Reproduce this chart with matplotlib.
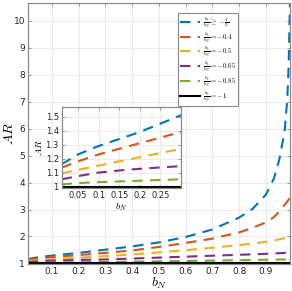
import matplotlib.pyplot as plt

plt.rcParams['mathtext.fontset'] = 'cm'

# b_N sample positions
bN = [0.01, 0.05, 0.1, 0.15, 0.2, 0.25, 0.3, 0.4, 0.5, 0.6,
      0.7, 0.8, 0.85, 0.9, 0.93, 0.95, 0.97, 0.98, 0.985, 0.99]

# AR for each ratio b1/bN
ar_third = [1.16, 1.23, 1.29, 1.34, 1.39, 1.45, 1.51, 1.63, 1.78, 1.98,
            2.26, 2.70, 3.02, 3.55, 4.15, 4.85, 5.90, 7.10, 8.30, 10.67]
ar_04 = [1.135, 1.18, 1.23, 1.27, 1.31, 1.35, 1.39, 1.48, 1.61, 1.76,
         1.92, 2.15, 2.32, 2.52, 2.72, 2.92, 3.17, 3.30, 3.37, 3.45]
ar_05 = [1.094, 1.12, 1.15, 1.18, 1.21, 1.24, 1.27, 1.33, 1.41, 1.49,
         1.58, 1.68, 1.74, 1.80, 1.85, 1.89, 1.94, 1.97, 1.98, 2.00]
ar_065 = [1.052, 1.075, 1.10, 1.115, 1.127, 1.137, 1.146, 1.18, 1.215, 1.25,
          1.285, 1.32, 1.335, 1.355, 1.37, 1.38, 1.39, 1.395, 1.398, 1.40]
ar_085 = [1.016, 1.025, 1.032, 1.037, 1.042, 1.047, 1.052, 1.065, 1.078, 1.09,
          1.105, 1.12, 1.127, 1.135, 1.14, 1.143, 1.146, 1.148, 1.149, 1.15]
ar_1 = [1.0] * len(bN)

series = [ar_third, ar_04, ar_05, ar_065, ar_085, ar_1]
labels = [r'$\frac{b_1}{b_N} \geq -\frac{1}{3}$',
          r'$\frac{b_1}{b_N} = \mathrm{-0.4}$',
          r'$\frac{b_1}{b_N} = \mathrm{-0.5}$',
          r'$\frac{b_1}{b_N} = \mathrm{-0.65}$',
          r'$\frac{b_1}{b_N} = \mathrm{-0.85}$',
          r'$\frac{b_1}{b_N} = -1$']
colors = ['#0072BD', '#D95319', '#EDB120', '#7E2F8E', '#77AC30', 'k']
styles = ['--', '--', '--', '--', '--', '-']

fig = plt.figure(figsize=(2.92, 2.91), dpi=100)
ax = fig.add_axes([0.095, 0.093, 0.898, 0.897])
ins = fig.add_axes([0.211, 0.354, 0.409, 0.279])


def style(a, fs):
    for s in a.spines.values():
        s.set_color('#8a8a8a')
        s.set_linewidth(0.9)
    a.tick_params(direction='in', length=2.5, width=0.6, colors='#8a8a8a',
                  labelcolor='#262626', labelsize=fs, top=True, right=True, pad=2)
    a.grid(True, color='#e6e6e6', linewidth=0.6)
    a.set_axisbelow(True)


for y, lab, c, ls in zip(series, labels, colors, styles):
    d = (5, 3.5) if ls == '--' else (None, None)
    ax.plot(bN, y, ls, color=c, lw=1.5, label=lab, dashes=d)
    ins.plot(bN, y, ls, color=c, lw=1.5, dashes=d)

style(ax, 6.5)
ax.set_xlim(0.01, 0.99)
ax.set_ylim(0.98, 10.67)
ax.set_xticks([0.1, 0.2, 0.3, 0.4, 0.5, 0.6, 0.7, 0.8, 0.9])
ax.set_xticklabels(['0.1', '0.2', '0.3', '0.4', '0.5', '0.6', '0.7', '0.8', '0.9'])
ax.set_yticks(range(1, 11))
ax.set_xlabel(r'$b_N$', fontsize=10)
ax.set_ylabel(r'$AR$', fontsize=10)
ax.xaxis.set_label_coords(0.5, -0.073)
ax.yaxis.set_label_coords(-0.07, 0.5)
ax.xaxis.label.set_va('center')
ax.yaxis.label.set_va('center')

leg = ax.legend(loc='upper left', bbox_to_anchor=(0.572, 0.962), fontsize=5,
                handlelength=2.9, labelspacing=0.0, borderpad=0.3,
                handletextpad=0.4, borderaxespad=0, fancybox=False, framealpha=1)
leg.get_frame().set_edgecolor('#8a8a8a')
leg.get_frame().set_linewidth(0.8)

style(ins, 6)
ins.set_xlim(0.01, 0.3)
ins.set_ylim(0.99, 1.57)
ins.set_xticks([0.05, 0.1, 0.15, 0.2, 0.25])
ins.set_xticklabels(['0.05', '0.1', '0.15', '0.2', '0.25'])
ins.set_yticks([1, 1.1, 1.2, 1.3, 1.4, 1.5])
ins.set_yticklabels(['1', '1.1', '1.2', '1.3', '1.4', '1.5'])
ins.set_xlabel(r'$b_N$', fontsize=7, labelpad=1)
ins.set_ylabel(r'$AR$', fontsize=7, labelpad=1)

fig.savefig('out.png', dpi=100)
